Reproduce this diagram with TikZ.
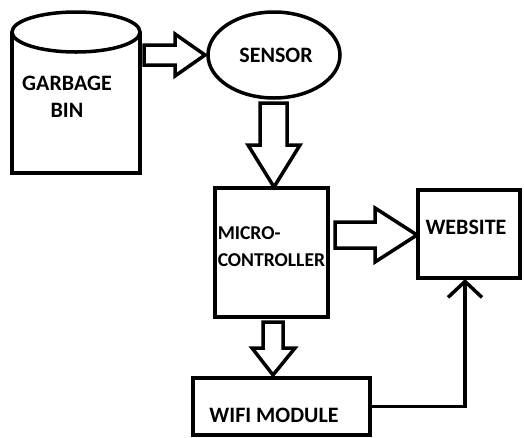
\documentclass[tikz,border=0pt]{standalone}
\usepackage{fontspec}
\setmainfont{Carlito}
\usetikzlibrary{arrows.meta,shapes.geometric}
\begin{document}
\begin{tikzpicture}[x=1pt,y=-1pt, line width=3.5pt, line join=miter,
  lbl/.style={font=\bfseries\fontsize{22}{27}\selectfont, inner sep=0pt, align=center},
  sml/.style={font=\bfseries\fontsize{19.6}{24}\selectfont, inner sep=0pt},
  box/.style={draw, line width=3.5pt, inner sep=0pt, rectangle},
  barrow/.style={draw, line width=3.5pt, fill=white}]
\useasboundingbox (0,0) rectangle (524,437);
% garbage bin
\draw (12,32) -- (12,173) -- (142,173);
\draw (140,32) -- (140,173);
\draw (76,32) ellipse [x radius=64, y radius=20];
\node[lbl] (bin) at (67,97) {GARBAGE\\BIN};
% sensor
\node[draw, ellipse, line width=3.5pt, minimum width=132pt, minimum height=86pt, inner sep=0pt] (sensor) at (274,55) {};
\node[lbl] (sensorlbl) at (276,55) {SENSOR};
% microcontroller
\node[box, minimum width=113pt, minimum height=129pt] (mc) at (271.5,252.5) {};
\node[sml, anchor=west] (mc1) at (216,233) {MICRO-};
\node[sml, anchor=west] (mc2) at (216,260) {CONTROLLER};
% website
\node[box, minimum width=102pt, minimum height=88pt] (web) at (469,234) {};
\node[lbl] (weblbl) at (466,227) {WEBSITE};
% wifi
\node[box, minimum width=177pt, minimum height=57pt] (wifi) at (281.5,406.5) {};
\node[lbl] (wifilbl) at (274,415) {WIFI MODULE};
% block arrows
\draw[barrow] (144,45) -- (175,45) -- (175,34) -- (205,55) -- (175,76) -- (175,65) -- (144,65) -- cycle;
\draw[barrow] (260,103) -- (287,103) -- (287,145) -- (300,145) -- (274,187) -- (248,145) -- (260,145) -- cycle;
\draw[barrow] (335,222) -- (375,222) -- (375,208) -- (417,235) -- (375,262) -- (375,248) -- (335,248) -- cycle;
\draw[barrow] (263,322) -- (283,322) -- (283,348) -- (295,348) -- (273,375) -- (252,348) -- (263,348) -- cycle;
% wifi -> website
\coordinate (webin) at (465,279);
\draw[-{Straight Barb[length=16pt,width=34pt,line width=3.5pt]}] (wifi.east) -| (webin);
\end{tikzpicture}
\end{document}
